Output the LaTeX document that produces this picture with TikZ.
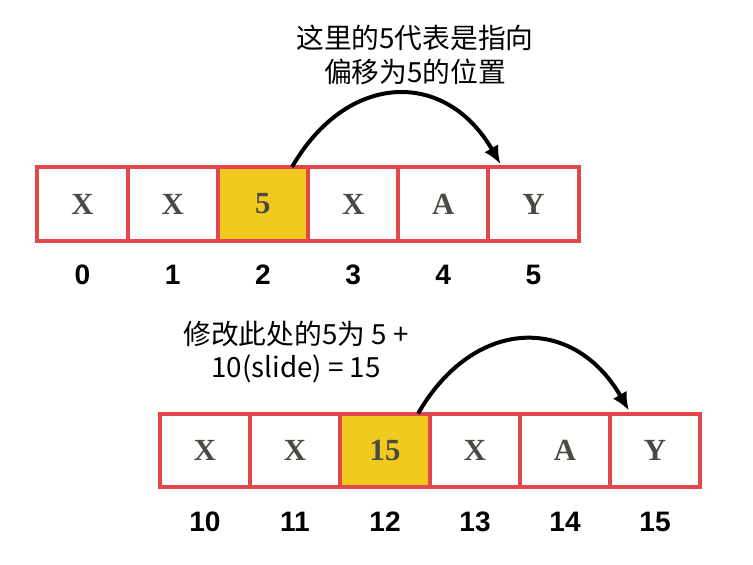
\documentclass[tikz,border=0pt]{standalone}
\usepackage{fontspec}
\setmainfont{Liberation Serif}
\newfontfamily\cjk{Noto Sans CJK SC}
\newfontfamily\idxfont{Liberation Sans}
\usetikzlibrary{arrows.meta}
\definecolor{cellred}{HTML}{E2474B}
\definecolor{slotyellow}{HTML}{F2CA1F}
\definecolor{txtgray}{HTML}{4A4A44}

\begin{document}
\begin{tikzpicture}[x=0.02cm,y=-0.02cm,>={Latex[length=0.36cm,width=0.32cm]},
  cell/.style={draw=cellred,line width=0.08cm,minimum width=1.804cm,minimum height=1.48cm,
    inner sep=0pt,outer sep=0pt,font=\fontsize{17.5}{20}\selectfont\bfseries,text=txtgray},
  idx/.style={font=\idxfont\fontsize{16}{19}\selectfont\bfseries},
  note/.style={font=\cjk\fontsize{15.8}{19.3}\selectfont,align=center},
  jump/.style={->,line width=0.08cm}]
  \useasboundingbox (0,0) rectangle (753,564);
  % first window
  \node[note] (topnote) at (415,55) {这里的5代表是指向\\偏移为5的位置};
  \foreach \i/\v/\f in {0/X/white,1/X/white,2/5/slotyellow,3/X/white,4/A/white,5/Y/white} {
    \node[cell,fill=\f] (top\i) at (82.5+90.2*\i,204) {\v};
    \node[idx] (topidx\i) at (82.5+90.2*\i,275) {\i};
  }
  \draw[jump] ([xshift=-0.32cm]top2.north east) to[out=60,in=120,looseness=1.35]
    ([xshift=0.24cm,yshift=0.06cm]top5.north west);
  % second window, slid by 10
  \node[note] (botnote) at (296,352) {修改此处的5为 5 +\\10(slide) = 15};
  \foreach \i/\n/\v/\f in {0/10/X/white,1/11/X/white,2/12/15/slotyellow,3/13/X/white,4/14/A/white,5/15/Y/white} {
    \node[cell,fill=\f] (bot\i) at (205+90*\i,450.5) {\v};
    \node[idx] (botidx\i) at (205+90*\i,522) {\n};
  }
  \draw[jump] ([xshift=-0.24cm]bot2.north east) to[out=60,in=120,looseness=1.35]
    ([xshift=0.38cm,yshift=0.06cm]bot5.north west);
\end{tikzpicture}
\end{document}
